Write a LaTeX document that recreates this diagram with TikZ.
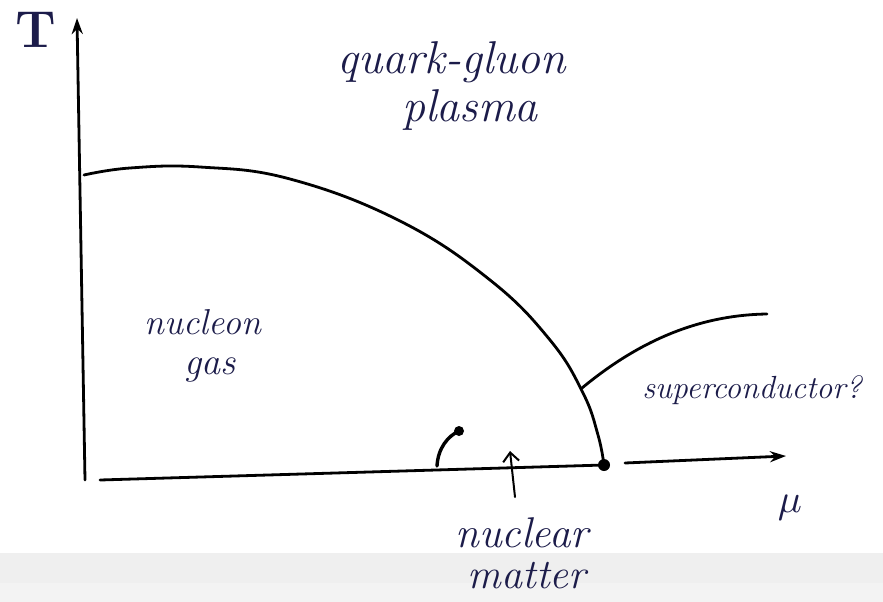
\documentclass[tikz,border=0pt]{standalone}
\usetikzlibrary{arrows.meta}
\definecolor{ink}{HTML}{1C1C4A}
\definecolor{bandA}{HTML}{EFEFEF}
\definecolor{bandB}{HTML}{F3F3F3}
\begin{document}
\begin{tikzpicture}[x=1pt,y=-1pt,
  curve/.style={line width=2.8pt,line cap=round,line join=round,black},
  lbl/.style={text=ink,font=\fontsize{#1}{#1}\selectfont\itshape,inner sep=0pt},
  lbl/.default=30,
  axisarrow/.style={-{Stealth[length=16pt,width=11pt]}}]
\useasboundingbox (0,0) rectangle (883,602);
\fill[white] (0,0) rectangle (883,602);
\fill[bandA] (0,553) rectangle (883,583);
\fill[bandB] (0,583) rectangle (883,602);
% axes
\coordinate (orig) at (85,480);
\coordinate (ttop) at (77,18);
\coordinate (xstart) at (100,480);
\coordinate (dotpt) at (604,465);
\coordinate (xres) at (625,463);
\coordinate (xend) at (786,456);
\draw[curve,axisarrow] (orig) -- (ttop);
\draw[curve] (xstart) -- (dotpt);
\draw[curve,axisarrow] (xres) -- (xend);
% crossover line
\draw[curve] plot[smooth,tension=0.7] coordinates {(84,175) (130,168) (200,167) (290,179) (400,221) (490,280) (550,340) (583,393) (598,435) (604,465)};
\fill[black] (dotpt) circle (6pt);
% superconductor boundary
\coordinate (scstart) at (582,388);
\coordinate (scend) at (767,314);
\draw[curve] (scstart) .. controls (640,340) and (700,315) .. (scend);
% critical point mark
\coordinate (cpbase) at (437,466);
\coordinate (cp) at (459,431);
\draw[curve,line width=3.4pt] (cpbase) .. controls (438,448) and (448,436) .. (cp);
\fill[black] (cp) circle (5pt);
% nuclear matter arrow
\coordinate (nmtail) at (515,497);
\coordinate (nmhead) at (510,451);
\draw[curve,line width=2pt,-{Straight Barb[length=9pt,width=16pt]}] (nmtail) -- (nmhead);
% labels
\node[text=ink,font=\fontsize{52}{52}\selectfont\bfseries,inner sep=0pt] (Tlab) at (36,30) {T};
\node[lbl=46] (qgp1) at (452,62) {quark-gluon};
\node[lbl=46] (qgp2) at (470,110) {plasma};
\node[lbl=36] (ng1) at (203,322) {nucleon};
\node[lbl=38] (ng2) at (210,370) {gas};
\node[lbl=32] (sc) at (752,390) {superconductor?};
\node[lbl=43] (nm1) at (522,533) {nuclear};
\node[lbl=42] (nm2) at (527,576) {matter};
\node[text=ink,inner sep=0pt] (mu) at (790,508) {\scalebox{4}{$\mu$}};
\end{tikzpicture}
\end{document}
